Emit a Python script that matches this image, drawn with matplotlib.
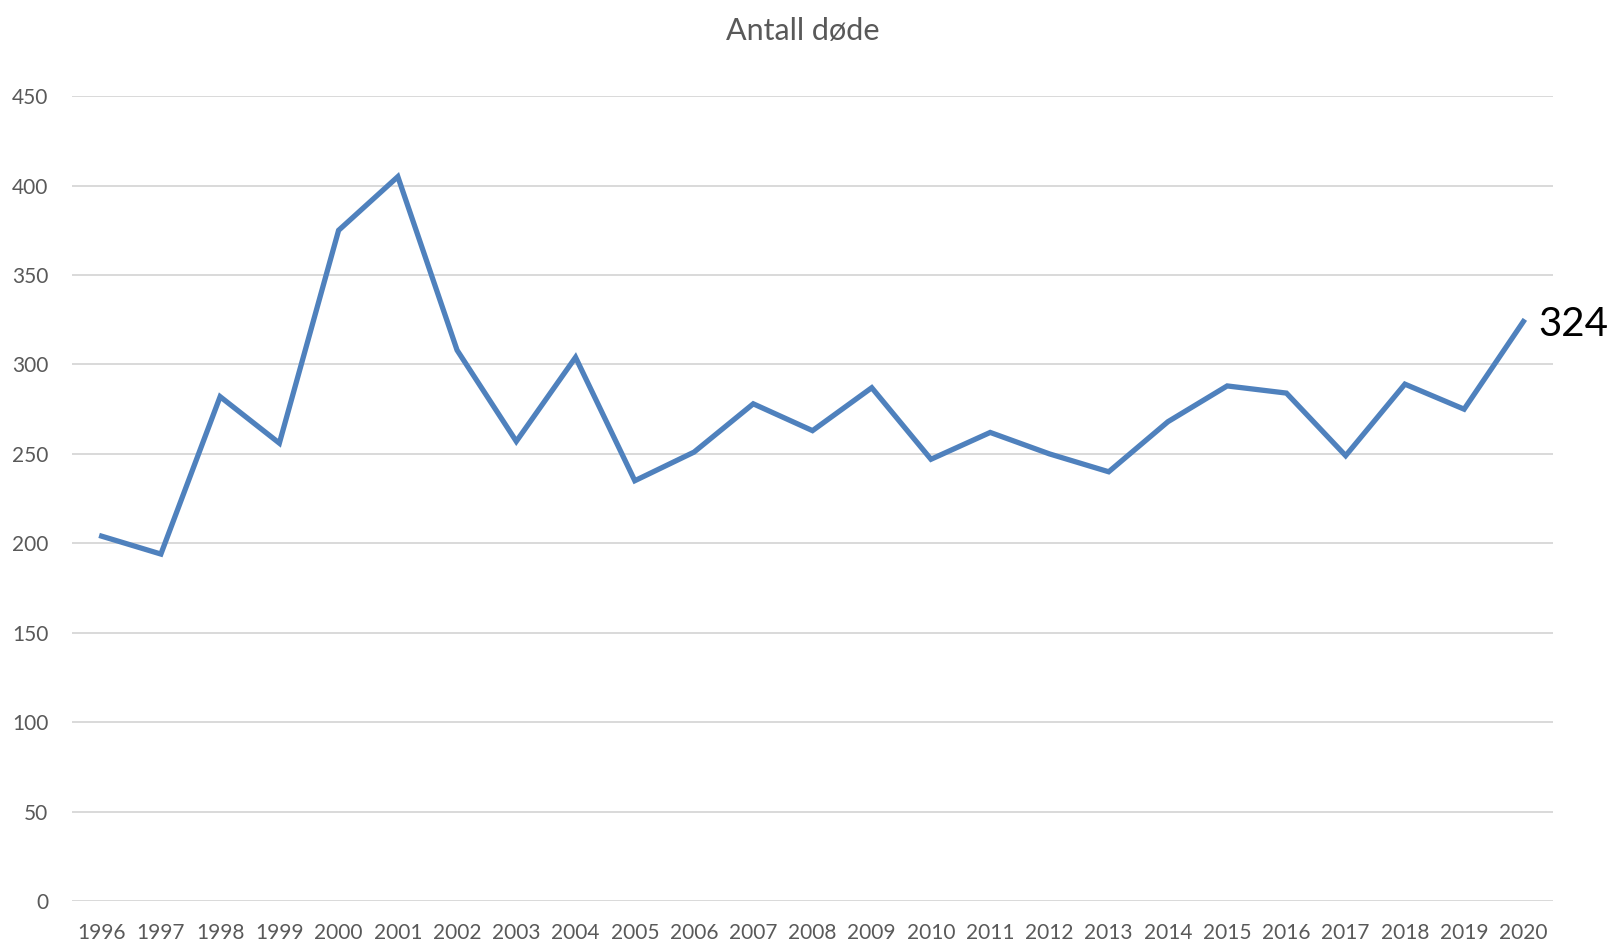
import matplotlib.pyplot as plt

years = [str(y) for y in range(1996, 2021)]
deaths = [204, 194, 282, 256, 375, 405, 308, 257, 304, 235, 251, 278, 263,
          287, 247, 262, 250, 240, 268, 288, 284, 249, 289, 275, 324]
yticks = [0, 50, 100, 150, 200, 250, 300, 350, 400, 450]

plt.rcParams['font.family'] = ['Lato', 'DejaVu Sans']

fig = plt.figure(figsize=(16.15, 9.43), dpi=100)
ax = fig.add_axes([0.0446, 0.0445, 0.917, 0.8535])

x = list(range(len(years)))
ax.plot(x, deaths, color='#4f81bd', linewidth=3.8, solid_joinstyle='miter')

ax.set_xlim(-0.5, len(years) - 0.5)
ax.set_ylim(0, 450)
ax.set_yticks(yticks)
ax.set_xticks(x)
ax.set_xticklabels(years)
ax.grid(axis='y', color='#d9d9d9', linewidth=1.4)
ax.set_axisbelow(True)
for s in ax.spines.values():
    s.set_visible(False)
ax.tick_params(axis='both', length=0, labelsize=15, labelcolor='#595959')
ax.tick_params(axis='y', pad=17)
ax.tick_params(axis='x', pad=16)

# label on the last point
ax.annotate(str(deaths[-1]), (x[-1], deaths[-1]), xytext=(11, -2),
            textcoords='offset points', va='center', ha='left',
            fontsize=29, color='black')

fig.text(0.497, 0.967, 'Antall døde', ha='center', va='center',
         fontsize=22, color='#595959')

fig.savefig('out.png', dpi=100)
